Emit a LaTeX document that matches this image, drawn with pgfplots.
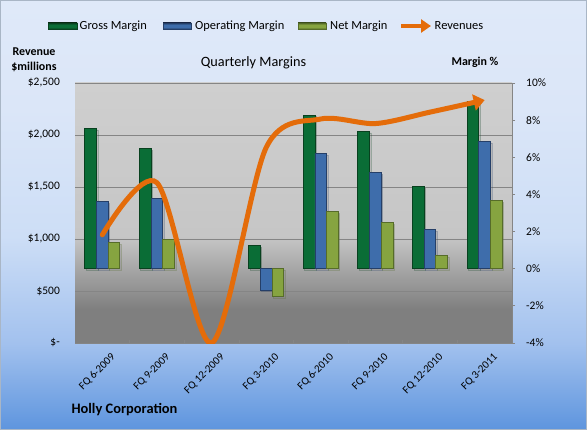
\documentclass[border=0pt]{standalone}
\usepackage{pgfplots}
\pgfplotsset{compat=1.18}
\usepackage{fontspec}
\setmainfont{Carlito}
\usetikzlibrary{arrows.meta,shadows}

% palette
\definecolor{revorange}{HTML}{E46C0A}
\definecolor{grossmid}{HTML}{0A6D36}
\definecolor{grossedge}{HTML}{08411F}
\definecolor{opmid}{HTML}{3E6DAB}
\definecolor{opedge}{HTML}{253F68}
\definecolor{netmid}{HTML}{86A440}
\definecolor{netedge}{HTML}{566C29}
\definecolor{gridgray}{HTML}{858585}
\definecolor{bgtop}{HTML}{DFE9F9}
\definecolor{bgupper}{HTML}{DBE6F8}
\definecolor{bgmid}{HTML}{CDDEF6}
\definecolor{bglow}{HTML}{A2C1EE}
\definecolor{bgbottom}{HTML}{5E95DE}
\definecolor{framegray}{HTML}{A9B6C6}
\definecolor{plotlight}{HTML}{CFCFCF}
\definecolor{plotmid}{HTML}{C6C6C6}
\definecolor{plotdark}{HTML}{7F7F7F}

% chart area and plot area fills (the path covers 25bp..75bp)
\pgfdeclareverticalshading{chartbg}{100bp}{%
  color(0bp)=(bgbottom); color(25bp)=(bgbottom); color(35bp)=(bglow);
  color(47.5bp)=(bgmid); color(62.5bp)=(bgupper); color(75bp)=(bgtop);
  color(100bp)=(bgtop)}
\pgfdeclareverticalshading{plotbg}{100bp}{%
  color(0bp)=(plotdark); color(25bp)=(plotdark); color(31.5bp)=(plotdark);
  color(45.5bp)=(plotmid); color(75bp)=(plotlight); color(100bp)=(plotlight)}

% legend keys
\pgfdeclareverticalshading{grosskey}{100bp}{%
  color(0bp)=(grossedge); color(25bp)=(grossedge); color(40bp)=(grossmid);
  color(60bp)=(grossmid); color(75bp)=(grossedge); color(100bp)=(grossedge)}
\pgfdeclareverticalshading{opkey}{100bp}{%
  color(0bp)=(opedge); color(25bp)=(opedge); color(40bp)=(opmid);
  color(60bp)=(opmid); color(75bp)=(opedge); color(100bp)=(opedge)}
\pgfdeclareverticalshading{netkey}{100bp}{%
  color(0bp)=(netedge); color(25bp)=(netedge); color(40bp)=(netmid);
  color(60bp)=(netmid); color(75bp)=(netedge); color(100bp)=(netedge)}

\tikzset{
  barshadow/.style={drop shadow={opacity=0.25, shadow xshift=1.5bp, shadow yshift=-1.5bp}},
  keytext/.style={font=\fontsize{12.5}{14}\selectfont, anchor=base west, inner sep=0pt},
}

\begin{document}
\begin{tikzpicture}[x=1bp,y=1bp]
\shade[shading=chartbg, draw=framegray, line width=0.8bp] (0.4,0.4) rectangle (586.6,429.6);

% ---- revenue scale: background, grid, labels ----
\begin{axis}[
  at={(75bp,87bp)}, anchor=south west, scale only axis,
  width=437bp, height=260bp,
  xmin=-0.5, xmax=7.5, ymin=0, ymax=2500,
  axis background/.style={shading=plotbg},
  axis x line*=bottom, axis y line*=left,
  x axis line style={draw=gridgray, -},
  y axis line style={draw=none},
  ytick={0,500,1000,1500,2000,2500},
  yticklabels={{\$-},{\$500},{\$1,000},{\$1,500},{\$2,000},{\$2,500}},
  ytick style={draw=none},
  ymajorgrids, grid style={gridgray, line width=0.8bp},
  yticklabel style={font=\fontsize{11.5}{13}\selectfont, inner sep=0pt, xshift=-15bp},
  xtick={0,...,7},
  xticklabels={FQ 6-2009,FQ 9-2009,FQ 12-2009,FQ 3-2010,FQ 6-2010,FQ 9-2010,FQ 12-2010,FQ 3-2011},
  major x tick style={draw=none},
  minor xtick={0.5,1.5,...,6.5},
  minor tick length=3bp, minor x tick style={draw=gridgray, line width=0.6bp},
  tick align=inside,
  xticklabel style={font=\fontsize{11}{13}\selectfont, rotate=45, anchor=east,
    inner sep=0pt, xshift=-1bp, yshift=-17bp},
]
\end{axis}

% ---- margin scale: bars ----
\begin{axis}[
  at={(75bp,87bp)}, anchor=south west, scale only axis,
  width=437bp, height=260bp,
  xmin=-0.5, xmax=7.5, ymin=-4, ymax=10,
  axis x line=none, axis y line*=right,
  y axis line style={draw=gridgray, line width=0.8bp, -},
  ytick={-4,-2,0,2,4,6,8,10},
  yticklabels={-4\%,-2\%,0\%,2\%,4\%,6\%,8\%,10\%},
  tick align=outside, major tick length=3bp,
  ytick style={draw=gridgray, line width=0.8bp},
  yticklabel style={font=\fontsize{11.5}{13}\selectfont, inner sep=0pt, anchor=west, xshift=11bp},
  ybar=0pt, bar width=11.7bp,
]
\addplot[draw=grossedge, line width=0.9bp, fill=grossmid, barshadow]
  coordinates {(0,7.55) (1,6.47) (3,1.24) (4,8.27) (5,7.39) (6,4.42) (7,9.00)};
\addplot[draw=opedge, line width=0.9bp, fill=opmid, barshadow]
  coordinates {(0,3.60) (1,3.77) (3,-1.17) (4,6.20) (5,5.17) (6,2.09) (7,6.85)};
\addplot[draw=netedge, line width=0.9bp, fill=netmid, barshadow]
  coordinates {(0,1.39) (1,1.57) (3,-1.50) (4,3.06) (5,2.47) (6,0.69) (7,3.66)};
\end{axis}

% ---- revenue line ----
\begin{axis}[
  at={(75bp,87bp)}, anchor=south west, scale only axis,
  width=437bp, height=260bp,
  xmin=-0.5, xmax=7.5, ymin=0, ymax=2500,
  hide axis,
]
\addplot[revorange, line width=5bp, smooth, tension=0.5, line cap=round,
  -{Triangle[width=16bp,length=11bp]}]
  coordinates {(0,1040) (1,1541) (2,0) (3,1880) (4,2154) (5,2110) (6,2220) (7,2336)};
\end{axis}

% legend
\path[draw=grossedge, line width=0.6bp, shading=grosskey] (48,401) rectangle (77,407);
\node[keytext] at (79.5,400) {Gross Margin};
\path[draw=opedge, line width=0.6bp, shading=opkey] (163,401) rectangle (191,407);
\node[keytext] at (195,400) {Operating Margin};
\path[draw=netedge, line width=0.6bp, shading=netkey] (298,401) rectangle (326,407);
\node[keytext] at (330,400) {Net Margin};
\draw[revorange, line width=4bp, -{Triangle[width=13bp,length=10bp]}] (401,404) -- (431,404);
\node[keytext] at (434.5,400) {Revenues};

% titles
\node[font=\fontsize{14.3}{17}\selectfont] at (253.5,367) {Quarterly Margins};
\node[font=\bfseries\fontsize{12}{15}\selectfont, align=center] at (34,370) {Revenue\\\$millions};
\node[font=\bfseries\fontsize{12}{15}\selectfont] at (475,368) {Margin \%};
\node[font=\bfseries\fontsize{14.5}{16}\selectfont, anchor=west] at (68,20) {Holly Corporation};
\end{tikzpicture}
\end{document}
